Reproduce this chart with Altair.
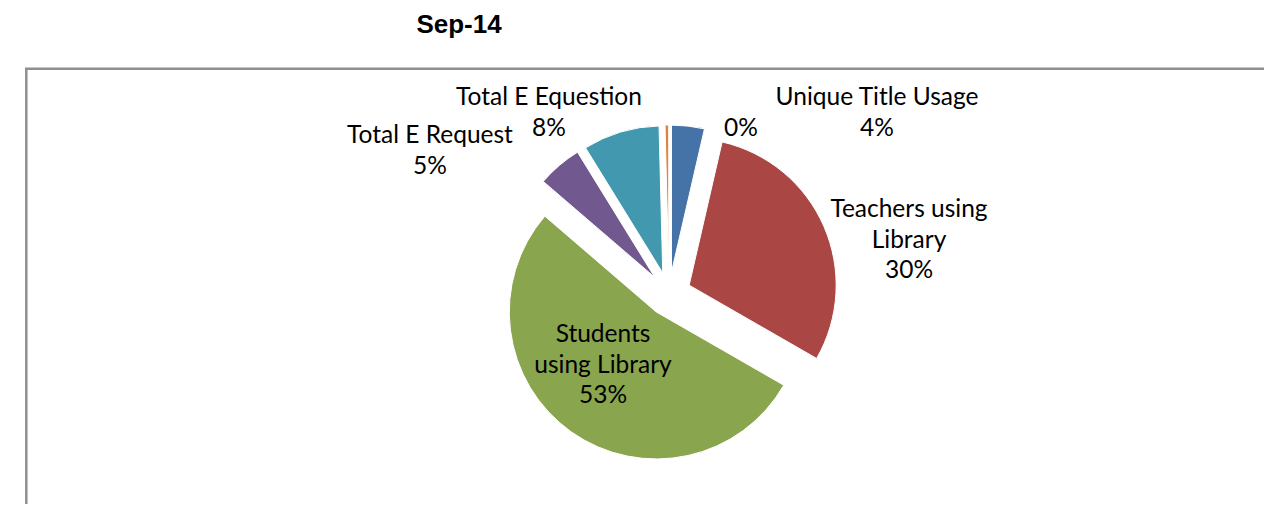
import math
import altair as alt
import pandas as pd

# ---- data ----
categories = ["Unique Title Usage", "Teachers using Library", "Students using Library",
              "Total E Request", "Total E Equestion", ""]
values = [3.6, 29.7, 53.0, 4.9, 8.4, 0.4]
label_names = ["Unique Title Usage", "Teachers using\nLibrary", "Students\nusing Library",
               "Total E Request", "Total E Equestion", ""]
chart_title = ["Sep-14"]

# ---- styles / layout ----
colors = ["#4572A7", "#AA4643", "#89A54E", "#71588F", "#4198AF", "#DB843D"]
W, H = 1256, 496
CX, CY = 661, 286          # pie centre (pixels)
R = 147                    # pie radius
EXPLODE = 22               # explosion distance
label_dx = [208, 240, -66, -239, -120, 72]
label_dy = [-189, -77, 48, -151, -189, -158]

df = pd.DataFrame({
    "category": categories,
    "value": values,
    "order": list(range(len(categories))),
    "name": label_names,
    "ldx": label_dx,
    "ldy": label_dy,
})

base = (
    alt.Chart(df)
    .transform_joinaggregate(total="sum(value)")
    .transform_window(cum="sum(value)", sort=[alt.SortField("order")], frame=[None, 0])
    .transform_calculate(
        start="(datum.cum - datum.value) / datum.total",
        end="datum.cum / datum.total",
        mid="PI * (2 * datum.cum - datum.value) / datum.total",
        px=f"{CX} + {EXPLODE} * sin(datum.mid)",
        py=f"{CY} - {EXPLODE} * cos(datum.mid)",
        pct="format(datum.value / datum.total, '.0%')",
        label="datum.name ? datum.name + '\\n' + datum.pct : datum.pct",
        lx=f"{CX} + datum.ldx",
        ly=f"{CY} + datum.ldy",
    )
)

arcs = base.mark_arc(radius=R, stroke="white", strokeWidth=1).encode(
    x=alt.X("px:Q", scale=None, axis=None),
    y=alt.Y("py:Q", scale=None, axis=None),
    theta=alt.Theta("start:Q", scale=alt.Scale(domain=[0, 1], range=[0, 2 * math.pi]), stack=False),
    theta2="end:Q",
    color=alt.Color("category:N", scale=alt.Scale(domain=categories, range=colors), legend=None),
)

labels = base.mark_text(
    font="Lato", fontSize=24.5, lineHeight=30.5, lineBreak="\n",
    align="center", baseline="alphabetic", color="#000000",
).encode(
    x=alt.X("lx:Q", scale=None, axis=None),
    y=alt.Y("ly:Q", scale=None, axis=None),
    text="label:N",
)

title = alt.Chart(pd.DataFrame({"t": chart_title})).mark_text(
    font="Liberation Sans", fontWeight="bold", fontSize=26,
    align="center", baseline="alphabetic", color="#000000",
).encode(x=alt.value(451), y=alt.value(25), text="t:N")

frame = alt.Chart(pd.DataFrame({"a": [0]})).mark_rect(
    fill="transparent", stroke="#8f8f8f", strokeWidth=2.5,
).encode(x=alt.value(18.3), y=alt.value(60.8), x2=alt.value(1600), y2=alt.value(900))

chart = alt.layer(frame, arcs, labels, title).properties(
    width=W, height=H,
    autosize=alt.AutoSizeParams(type="none"),
    padding=0,
).configure_view(stroke=None)

chart.save("out.html", embed_options={"renderer": "svg", "actions": False})
